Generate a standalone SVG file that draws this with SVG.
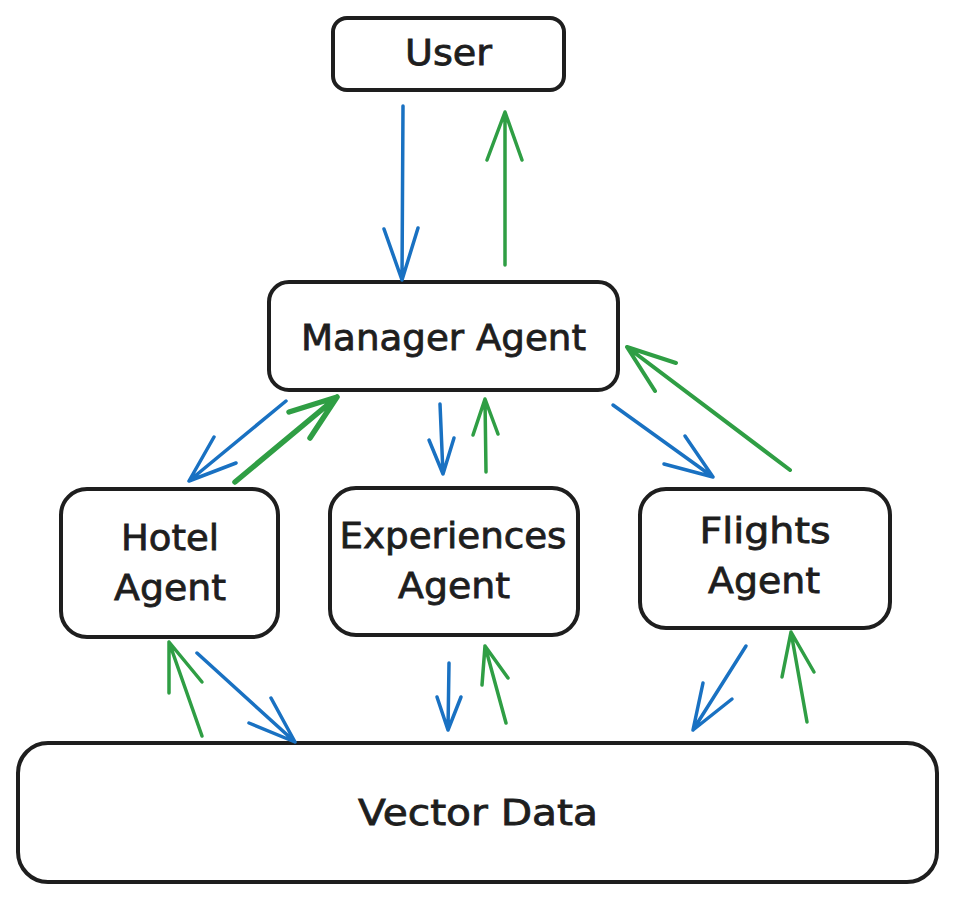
<svg xmlns="http://www.w3.org/2000/svg" width="956" height="902" viewBox="0 0 956 902">
<style>
.box{fill:#ffffff;stroke:#1e1e1e;stroke-width:4;stroke-linejoin:round}
.lbl{font-family:"DejaVu Sans","Liberation Sans",sans-serif;font-size:36px;fill:#1e1e1e;stroke:#1e1e1e;stroke-width:0.8;text-anchor:middle}
.blue{fill:none;stroke:#1971c2;stroke-width:3.5;stroke-linecap:round;stroke-linejoin:round}
.green{fill:none;stroke:#2f9e44;stroke-width:3.5;stroke-linecap:round;stroke-linejoin:round}
</style>
<rect width="956" height="902" fill="#ffffff"/>
<g id="user">
<rect class="box" x="333" y="18" width="231" height="72" rx="14"/>
<text class="lbl" x="448.5" y="65" textLength="87" lengthAdjust="spacingAndGlyphs">User</text>
</g>
<g id="manager">
<rect class="box" x="269" y="282" width="349" height="108" rx="20"/>
<text class="lbl" x="443.5" y="350" textLength="285" lengthAdjust="spacingAndGlyphs">Manager Agent</text>
</g>
<g id="hotel">
<rect class="box" x="61" y="489" width="217" height="148" rx="26"/>
<text class="lbl" x="170" y="550" textLength="98" lengthAdjust="spacingAndGlyphs">Hotel</text>
<text class="lbl" x="170" y="600" textLength="112" lengthAdjust="spacingAndGlyphs">Agent</text>
</g>
<g id="experiences">
<rect class="box" x="330" y="488" width="248" height="147" rx="26"/>
<text class="lbl" x="453" y="548" textLength="227" lengthAdjust="spacingAndGlyphs">Experiences</text>
<text class="lbl" x="454" y="598" textLength="112" lengthAdjust="spacingAndGlyphs">Agent</text>
</g>
<g id="flights">
<rect class="box" x="640" y="489" width="250" height="139" rx="26"/>
<text class="lbl" x="765" y="543" textLength="131" lengthAdjust="spacingAndGlyphs">Flights</text>
<text class="lbl" x="764" y="593" textLength="112" lengthAdjust="spacingAndGlyphs">Agent</text>
</g>
<g id="vector-data">
<rect class="box" x="18" y="743" width="919" height="139" rx="30"/>
<text class="lbl" x="478" y="825" textLength="240" lengthAdjust="spacingAndGlyphs">Vector Data</text>
</g>
<g id="connectors">
<path class="blue" d="M403,106 L402,280 M384,229 L402,280 L418,228"/>
<path class="green" d="M505,265 L505,112 M487,160 L505,112 L522,160"/>
<path class="blue" d="M286,401 L189,481 M214,437 L189,481 L236,463"/>
<path class="green" style="stroke-width:5.5" d="M235,482 L337,397 M289,412 L337,397 L310,438"/>
<path class="blue" d="M440,404 L443,474 M429,440 L443,474 L454,438"/>
<path class="green" d="M486,472 L485,399 M473,435 L485,399 L498,434"/>
<path class="blue" d="M613,405 L713,477 M664,464 L713,477 L685,436"/>
<path class="green" style="stroke-width:4" d="M790,470 L627,347 M676,363 L627,347 L655,391"/>
<path class="green" d="M202,736 L169,642 M169,693 L169,642 L202,682"/>
<path class="blue" d="M197,653 L295,742 M249,723 L295,742 L271,698"/>
<path class="blue" d="M449,663 L448,730 M437,697 L448,730 L461,697"/>
<path class="green" d="M506,723 L485,646 M482,685 L485,646 L508,678"/>
<path class="blue" d="M746,646 L693,730 M703,683 L693,730 L732,699"/>
<path class="green" d="M807,722 L791,632 M782,677 L791,632 L814,672"/>
</g>
</svg>
